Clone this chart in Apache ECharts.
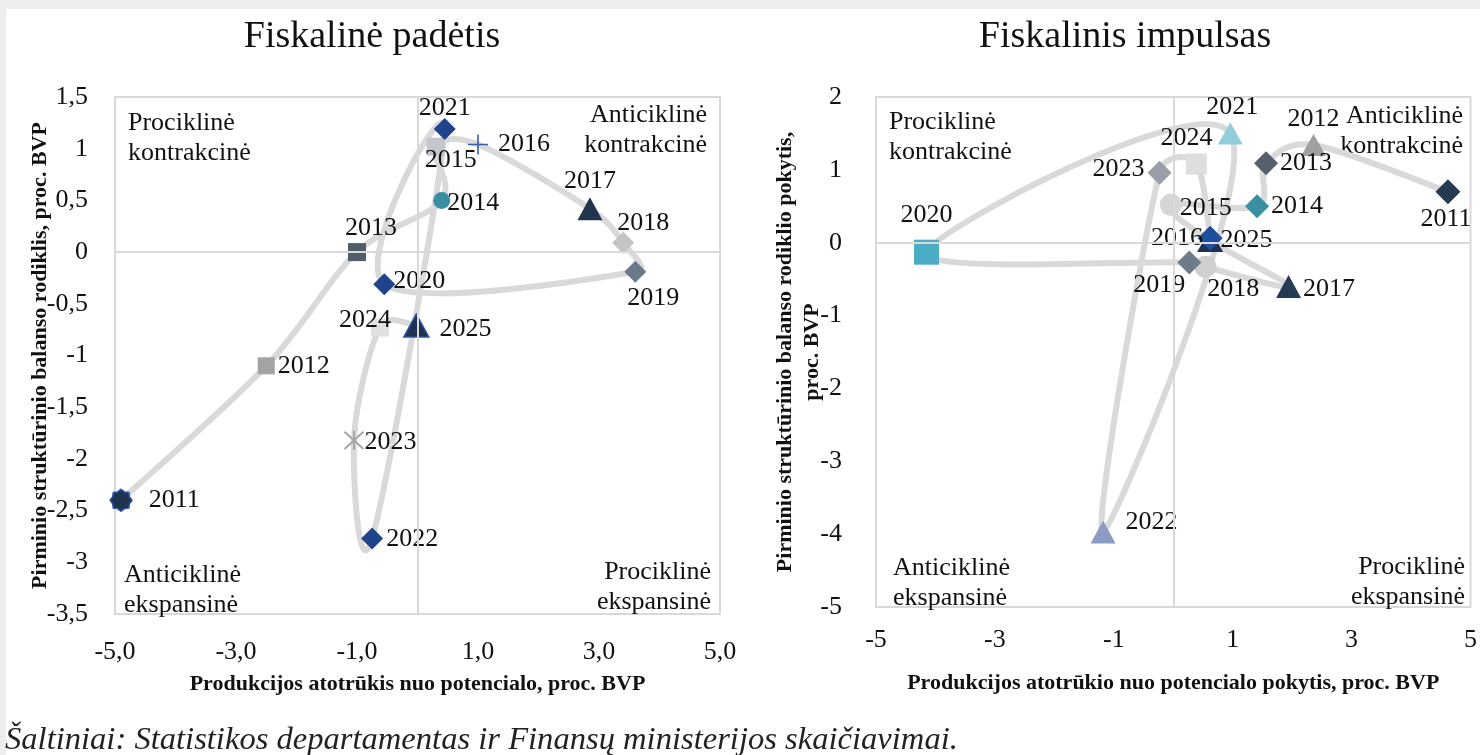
<!DOCTYPE html>
<html>
<head>
<meta charset="utf-8">
<script src="https://cdn.jsdelivr.net/npm/echarts@6/dist/echarts.min.js"></script>
<style>
  html, body { margin: 0; padding: 0; background: #fff; }
  #chart { width: 1480px; height: 755px; }
</style>
</head>
<body>
<div id="chart"></div>
<script>
// metai
const years = ['2011', '2012', '2013', '2014', '2015', '2016', '2017', '2018',
  '2019', '2020', '2021', '2022', '2023', '2024', '2025'];

// Fiskalinė padėtis: produkcijos atotrūkis (x) ir pirminio struktūrinio balanso rodiklis (y)
const levelGap = [-4.9, -2.5, -1.0, 0.4, 0.3, 1.0, 2.85, 3.4, 3.6, -0.55, 0.45, -0.75, -1.05, -0.62, -0.02];
const levelBalance = [-2.4, -1.1, 0.0, 0.5, 1.02, 1.04, 0.42, 0.09, -0.19, -0.31, 1.19, -2.77, -1.82, -0.73, -0.71];

// Fiskalinis impulsas: atotrūkio pokytis (x) ir balanso rodiklio pokytis (y)
const changeGap = [4.62, 2.36, 1.56, 1.41, -0.04, 0.62, 1.94, 0.54, 0.27, -4.15, 0.96, -1.18, -0.23, 0.39, 0.62];
const changeBalance = [0.7, 1.34, 1.09, 0.5, 0.52, 0.03, -0.6, -0.33, -0.27, -0.13, 1.5, -3.97, 0.96, 1.08, 0.06];

// ašių žymos
const levelXTicks = [-5, -3, -1, 1, 3, 5];
const changeXTicks = [-5, -3, -1, 1, 3, 5];

const SERIF = '"Liberation Serif", "Times New Roman", serif';
const TXT = '#111';

function starPath() {
  let d = '';
  for (let k = 0; k < 16; k++) {
    const r = k % 2 ? 8.2 : 10;
    const a = Math.PI * k / 8 - Math.PI / 2;
    d += (k ? 'L' : 'M') + (10 + r * Math.cos(a)).toFixed(2) + ',' + (10 + r * Math.sin(a)).toFixed(2);
  }
  return 'path://' + d + 'Z';
}
const SYM = {
  star: starPath(),
  plus: 'path://M9.2,0H10.8V9.2H20V10.8H10.8V20H9.2V10.8H0V9.2H9.2Z',
  asterisk: 'path://M0,0L20,20M20,0L0,20M10,-1L10,21'
};

// žymeklių stilius: [forma, dydis, spalva, kraštinė]
const levelMarks = {
  2011: ['star', 22, '#1f3350', '#2b56a0'],
  2012: ['rect', 17, '#a3a3a3'],
  2013: ['rect', 18, '#525d6b'],
  2014: ['circle', 17, '#3a8fa0'],
  2015: ['rect', 18, '#c3c7cd'],
  2016: ['plus', 20, '#3a5da8'],
  2017: ['triangle', [25, 23], '#22354f'],
  2018: ['diamond', 22, '#c4c4c4'],
  2019: ['diamond', 22, '#6c7989'],
  2020: ['diamond', 22, '#1f448c'],
  2021: ['diamond', 22, '#1f448c'],
  2022: ['diamond', 22, '#1f448c'],
  2023: ['asterisk', 19, '#a6a6a6'],
  2024: ['rect', 18, '#e0e0e0'],
  2025: ['triangle', [25, 23], '#1f3350', '#2b56a0']
};
const changeMarks = {
  2011: ['diamond', 25, '#263a52'],
  2012: ['triangle', [25, 22], '#a0a0a0'],
  2013: ['diamond', 24, '#56606d'],
  2014: ['diamond', 24, '#3a8fa0'],
  2015: ['circle', 22, '#d6d6d6'],
  2016: ['triangle', [26, 23], '#1f3350'],
  2017: ['triangle', [25, 23], '#243a55'],
  2018: ['circle', 22, '#cfcfcf'],
  2019: ['diamond', 24, '#6e7b8b'],
  2020: ['rect', 25, '#4bacc6'],
  2021: ['triangle', [25, 22], '#92cddc'],
  2022: ['triangle', [25, 23], '#8e9bc4'],
  2023: ['diamond', 24, '#9a9ea6'],
  2024: ['rect', 21, '#dedede'],
  2025: ['diamond', 25, '#1f4e9c']
};

// etikečių vieta: [pozicija, atstumas, poslinkis]
const levelLabels = {
  2011: ['right', 16, [0, 0]],
  2012: ['right', 3, [0, 0]],
  2013: ['top', 2, [14, 0]],
  2014: ['right', -3, [0, 3]],
  2015: ['bottom', -8, [15, 0]],
  2016: ['right', 10, [0, 0]],
  2017: ['top', 3, [0, 0]],
  2018: ['top', -4, [20, 0]],
  2019: ['bottom', 2, [18, 0]],
  2020: ['right', -2, [0, -3]],
  2021: ['top', -3, [0, 0]],
  2022: ['right', 3, [0, 1]],
  2023: ['right', 0, [0, 2]],
  2024: ['top', -15, [-15, 0]],
  2025: ['right', 10, [0, 4]]
};
const changeLabels = {
  2011: ['bottom', 2, [-2, 0]],
  2012: ['top', 2, [0, 0]],
  2013: ['right', 2, [0, 0]],
  2014: ['right', 2, [0, 0]],
  2015: ['right', -2, [0, 3]],
  2016: ['left', -6, [0, -2]],
  2017: ['right', 2, [0, 3]],
  2018: ['bottom', -2, [28, 0]],
  2019: ['bottom', 0, [-30, -2]],
  2020: ['top', 12, [0, 0]],
  2021: ['top', 2, [2, 0]],
  2022: ['right', 10, [0, -10]],
  2023: ['left', 3, [0, -4]],
  2024: ['top', 2, [-10, 0]],
  2025: ['right', -2, [0, 2]]
};

function buildData(xs, ys, marks, labels) {
  return years.map((yr, i) => {
    const m = marks[yr];
    const l = labels[yr];
    const stroked = m[0] === 'asterisk';
    return {
      name: yr,
      value: [xs[i], ys[i]],
      symbol: SYM[m[0]] || m[0],
      symbolSize: m[1],
      itemStyle: stroked
        ? { opacity: 1, color: 'rgba(0,0,0,0)', borderColor: m[2], borderWidth: 2 }
        : { opacity: 1, color: m[2], borderColor: m[3] || m[2], borderWidth: m[3] ? 1.5 : 0 },
      label: { show: true, position: l[0], distance: l[1], offset: l[2] }
    };
  });
}

// glodi kreivė kaip Excel: Catmull-Rom Bezier segmentai per ašių koordinates,
// valdymo taškai apriboti puse segmento ilgio
function curveSeries(idx, xs, ys) {
  const pts = xs.map((x, i) => [x, ys[i]]);
  const n = pts.length;
  const tangent = (a, b, len) => {
    let tx = (b[0] - a[0]) / 6, ty = (b[1] - a[1]) / 6;
    const m = Math.hypot(tx, ty), lim = len * 0.5;
    if (m > lim && m > 0) { tx *= lim / m; ty *= lim / m; }
    return [tx, ty];
  };
  return {
    type: 'custom',
    xAxisIndex: idx,
    yAxisIndex: idx,
    encode: { x: 0, y: 1 },
    data: pts,
    silent: true,
    z: 2,
    renderItem: (params, api) => {
      const i = params.dataIndex;
      if (i >= n - 1) return null;
      const P = k => api.coord(pts[Math.max(0, Math.min(n - 1, k))]);
      const p0 = P(i - 1), p1 = P(i), p2 = P(i + 1), p3 = P(i + 2);
      const len = Math.hypot(p2[0] - p1[0], p2[1] - p1[1]);
      const t1 = tangent(p0, p2, len), t2 = tangent(p1, p3, len);
      return {
        type: 'bezierCurve',
        shape: {
          x1: p1[0], y1: p1[1], x2: p2[0], y2: p2[1],
          cpx1: p1[0] + t1[0], cpy1: p1[1] + t1[1],
          cpx2: p2[0] - t2[0], cpy2: p2[1] - t2[1]
        },
        style: { stroke: '#d9d9d9', lineWidth: 6, fill: null, lineCap: 'round' }
      };
    }
  };
}

function pointSeries(idx, data) {
  return {
    type: 'scatter',
    xAxisIndex: idx,
    yAxisIndex: idx,
    data: data,
    label: { show: true, fontFamily: SERIF, fontSize: 26, color: TXT, formatter: '{b}' },
    emphasis: { disabled: true },
    markLine: {
      silent: true,
      symbol: 'none',
      label: { show: false },
      lineStyle: { color: '#d9d9d9', width: 2, type: 'solid', opacity: 1 },
      data: [{ xAxis: 0 }, { yAxis: 0 }],
      animation: false
    },
    z: 3
  };
}

function quad(x, y, text, align) {
  return {
    type: 'text', x: x, y: y,
    style: { text: text, font: '26px ' + SERIF, fill: TXT, align: align, verticalAlign: 'top', lineHeight: 30 }
  };
}

const comma = v => String(v).replace('.', ',');
const axisText = { fontFamily: SERIF, fontSize: 26, color: TXT };
const nameText = { fontFamily: SERIF, fontSize: 22, fontWeight: 'bold', color: TXT, lineHeight: 27 };

const chart = echarts.init(document.getElementById('chart'));
chart.setOption({
  animation: false,
  backgroundColor: '#fff',
  grid: [
    { left: 115, top: 97, width: 605, height: 517, show: true, borderColor: '#d9d9d9', borderWidth: 2 },
    { left: 876, top: 97, width: 599, height: 510, show: true, borderColor: '#d9d9d9', borderWidth: 2 }
  ],
  xAxis: [
    {
      gridIndex: 0, type: 'value', min: -5, max: 5,
      axisLine: { show: false }, axisTick: { show: false }, splitLine: { show: false },
      axisLabel: Object.assign({ margin: 25, customValues: levelXTicks, formatter: v => v.toFixed(1).replace('.', ',') }, axisText),
      name: 'Produkcijos atotrūkis nuo potencialo, proc. BVP',
      nameLocation: 'middle', nameGap: 57, nameTextStyle: nameText
    },
    {
      gridIndex: 1, type: 'value', min: -5, max: 5,
      axisLine: { show: false }, axisTick: { show: false }, splitLine: { show: false },
      axisLabel: Object.assign({ margin: 20, customValues: changeXTicks }, axisText),
      name: 'Produkcijos atotrūkio nuo potencialo pokytis, proc. BVP',
      nameLocation: 'middle', nameGap: 63, nameTextStyle: nameText
    }
  ],
  yAxis: [
    {
      gridIndex: 0, type: 'value', min: -3.5, max: 1.5, interval: 0.5,
      axisLine: { show: false }, axisTick: { show: false }, splitLine: { show: false },
      axisLabel: Object.assign({ margin: 27, formatter: comma }, axisText),
      name: 'Pirminio struktūrinio balanso rodiklis, proc. BVP',
      nameLocation: 'middle', nameGap: 61, nameMoveOverlap: false, nameTextStyle: nameText
    },
    {
      gridIndex: 1, type: 'value', min: -5, max: 2, interval: 1,
      axisLine: { show: false }, axisTick: { show: false }, splitLine: { show: false },
      axisLabel: Object.assign({ margin: 34 }, axisText),
      name: 'Pirminio struktūrinio balanso rodiklio pokytis,\nproc. BVP',
      nameLocation: 'middle', nameGap: 50, nameMoveOverlap: false, nameTextStyle: nameText
    }
  ],
  graphic: [
    { type: 'rect', shape: { x: 0, y: 0, width: 1480, height: 9 }, style: { fill: '#ededed' }, z: -1 },
    { type: 'rect', shape: { x: 0, y: 0, width: 6, height: 755 }, style: { fill: '#ededed' }, z: -1 },
    { type: 'text', x: 372, y: 37, style: { text: 'Fiskalinė padėtis', font: '38px ' + SERIF, fill: TXT, align: 'center', verticalAlign: 'middle' } },
    { type: 'text', x: 1125, y: 37, style: { text: 'Fiskalinis impulsas', font: '38px ' + SERIF, fill: TXT, align: 'center', verticalAlign: 'middle' } },
    quad(128, 108, 'Prociklinė\nkontrakcinė', 'left'),
    quad(707, 100, 'Anticiklinė\nkontrakcinė', 'right'),
    quad(124, 560, 'Anticiklinė\nekspansinė', 'left'),
    quad(711, 557, 'Prociklinė\nekspansinė', 'right'),
    quad(889, 107, 'Prociklinė\nkontrakcinė', 'left'),
    quad(1463, 101, 'Anticiklinė\nkontrakcinė', 'right'),
    quad(893, 553, 'Anticiklinė\nekspansinė', 'left'),
    quad(1465, 552, 'Prociklinė\nekspansinė', 'right'),
    { type: 'text', x: 5, y: 740, style: { text: 'Šaltiniai: Statistikos departamentas ir Finansų ministerijos skaičiavimai.', font: 'italic 32.6px ' + SERIF, fill: '#222', verticalAlign: 'middle' } }
  ],
  series: [
    curveSeries(0, levelGap, levelBalance),
    curveSeries(1, changeGap, changeBalance),
    pointSeries(0, buildData(levelGap, levelBalance, levelMarks, levelLabels)),
    pointSeries(1, buildData(changeGap, changeBalance, changeMarks, changeLabels))
  ]
});
</script>
</body>
</html>
